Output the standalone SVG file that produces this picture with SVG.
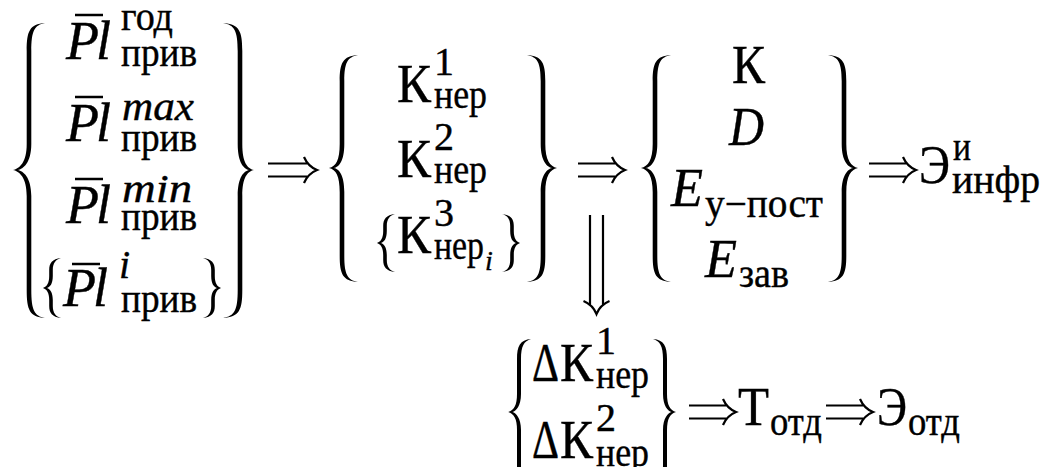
<svg xmlns="http://www.w3.org/2000/svg" width="1046" height="467" viewBox="0 0 1046 467">
<style>
text{font-family:"Liberation Serif","DejaVu Serif",serif;fill:#000;stroke:#000;stroke-width:0.4}
.m{font-size:54px}
.s{font-size:40px}
.ss{font-size:28px}
.i{font-style:italic}
.br{fill:#000;stroke:none}
.bar{stroke:#000;stroke-width:2.5}
.arr{fill:none;stroke:#000;stroke-width:2.2}
</style>
<rect width="1046" height="467" fill="#fff"/>

<g id="vec-Pl">
<path class="br" d="M45,23 C29.7,24 26.7,31 26.7,51 L26.7,144 C26.7,162 20,168.5 13,170 C20,171.5 26.7,178 26.7,196 L26.7,290 C26.7,310 29.7,317 45,318 C34.3,316 31.3,310 31.3,290 L31.3,196 C31.3,177 23,171 18,170 C23,169 31.3,163 31.3,144 L31.3,51 C31.3,31 34.3,25 45,23 Z"/>
<path class="br" transform="scale(-1,1)" d="M-223,23 C-239.3,24 -242.3,31 -242.3,51 L-242.3,144 C-242.3,162 -247,168.5 -254,170 C-247,171.5 -242.3,178 -242.3,196 L-242.3,290 C-242.3,310 -239.3,317 -223,318 C-234.7,316 -237.7,310 -237.7,290 L-237.7,196 C-237.7,177 -244,171 -249,170 C-244,169 -237.7,163 -237.7,144 L-237.7,51 C-237.7,31 -234.7,25 -223,23 Z"/>
<line class="bar" x1="75" y1="15" x2="103" y2="15"/>
<text class="m i" x="66" y="59">P</text><text class="m i" x="96" y="59">l</text>
<text class="s" x="121" y="30" textLength="52" lengthAdjust="spacingAndGlyphs">год</text>
<text class="s" x="121" y="66" textLength="76" lengthAdjust="spacingAndGlyphs">прив</text>
<line class="bar" x1="75" y1="97" x2="103" y2="97"/>
<text class="m i" x="66" y="141">P</text><text class="m i" x="96" y="141">l</text>
<text class="s i" x="122" y="120" textLength="72" lengthAdjust="spacingAndGlyphs">max</text>
<text class="s" x="121" y="151" textLength="76" lengthAdjust="spacingAndGlyphs">прив</text>
<line class="bar" x1="75" y1="179" x2="103" y2="179"/>
<text class="m i" x="66" y="223">P</text><text class="m i" x="96" y="223">l</text>
<text class="s i" x="122" y="202" textLength="70" lengthAdjust="spacingAndGlyphs">min</text>
<text class="s" x="121" y="230" textLength="76" lengthAdjust="spacingAndGlyphs">прив</text>
<path class="br" d="M61,258 C52.2,259 49.2,263 49.2,270 L49.2,276 C49.2,283 47,286.5 43,288 C47,289.5 49.2,293 49.2,300 L49.2,306 C49.2,313 52.2,317 61,318 C55.8,316.5 52.8,313 52.8,306 L52.8,300 C52.8,292 50,289 47,288 C50,287 52.8,284 52.8,276 L52.8,270 C52.8,263 55.8,259.5 61,258 Z"/>
<line class="bar" x1="72" y1="264" x2="100" y2="264"/>
<text class="m i" x="63" y="306">P</text><text class="m i" x="93" y="306">l</text>
<text class="s i" x="119" y="278">i</text>
<text class="s" x="121" y="312" textLength="76" lengthAdjust="spacingAndGlyphs">прив</text>
<path class="br" transform="scale(-1,1)" d="M-203,258 C-211.8,259 -214.8,263 -214.8,270 L-214.8,276 C-214.8,283 -217,286.5 -221,288 C-217,289.5 -214.8,293 -214.8,300 L-214.8,306 C-214.8,313 -211.8,317 -203,318 C-208.2,316.5 -211.2,313 -211.2,306 L-211.2,300 C-211.2,292 -214,289 -217,288 C-214,287 -211.2,284 -211.2,276 L-211.2,270 C-211.2,263 -208.2,259.5 -203,258 Z"/>
</g>

<g id="vec-K">
<path class="br" d="M358,55 C342.7,56 339.7,63 339.7,81 L339.7,144 C339.7,160 336,166.5 329,168 C336,169.5 339.7,176 339.7,192 L339.7,256 C339.7,274 342.7,281 358,282 C347.3,280 344.3,274 344.3,256 L344.3,192 C344.3,175 339,169 334,168 C339,167 344.3,161 344.3,144 L344.3,81 C344.3,63 347.3,57 358,55 Z"/>
<path class="br" transform="scale(-1,1)" d="M-527,55 C-542.3,56 -545.3,63 -545.3,81 L-545.3,144 C-545.3,160 -550,166.5 -557,168 C-550,169.5 -545.3,176 -545.3,192 L-545.3,256 C-545.3,274 -542.3,281 -527,282 C-537.7,280 -540.7,274 -540.7,256 L-540.7,192 C-540.7,175 -547,169 -552,168 C-547,167 -540.7,161 -540.7,144 L-540.7,81 C-540.7,63 -537.7,57 -527,55 Z"/>
<text class="m" x="397" y="102" textLength="34" lengthAdjust="spacingAndGlyphs">К</text>
<text class="s" x="434" y="75">1</text>
<text class="s" x="434" y="108" textLength="53" lengthAdjust="spacingAndGlyphs">нер</text>
<text class="m" x="397" y="177" textLength="34" lengthAdjust="spacingAndGlyphs">К</text>
<text class="s" x="434" y="150">2</text>
<text class="s" x="434" y="183" textLength="53" lengthAdjust="spacingAndGlyphs">нер</text>
<path class="br" d="M395,214 C386.2,215 383.2,219 383.2,226 L383.2,231 C383.2,238 381,241.5 377,243 C381,244.5 383.2,248 383.2,255 L383.2,260 C383.2,267 386.2,271 395,272 C389.8,270.5 386.8,267 386.8,260 L386.8,255 C386.8,247 384,244 381,243 C384,242 386.8,239 386.8,231 L386.8,226 C386.8,219 389.8,215.5 395,214 Z"/>
<text class="m" x="397" y="253" textLength="34" lengthAdjust="spacingAndGlyphs">К</text>
<text class="s" x="434" y="226">3</text>
<text class="s" x="434" y="259" textLength="50" lengthAdjust="spacingAndGlyphs">нер</text>
<text class="ss i" x="485" y="270">i</text>
<path class="br" transform="scale(-1,1)" d="M-502,214 C-510.8,215 -513.8,219 -513.8,226 L-513.8,231 C-513.8,238 -516,241.5 -520,243 C-516,244.5 -513.8,248 -513.8,255 L-513.8,260 C-513.8,267 -510.8,271 -502,272 C-507.2,270.5 -510.2,267 -510.2,260 L-510.2,255 C-510.2,247 -513,244 -516,243 C-513,242 -510.2,239 -510.2,231 L-510.2,226 C-510.2,219 -507.2,215.5 -502,214 Z"/>
</g>

<g id="vec-KDE">
<path class="br" d="M671,55 C655.7,56 652.7,63 652.7,81 L652.7,144 C652.7,160 648,166.5 641,168 C648,169.5 652.7,176 652.7,192 L652.7,256 C652.7,274 655.7,281 671,282 C660.3,280 657.3,274 657.3,256 L657.3,192 C657.3,175 651,169 646,168 C651,167 657.3,161 657.3,144 L657.3,81 C657.3,63 660.3,57 671,55 Z"/>
<path class="br" transform="scale(-1,1)" d="M-828,55 C-843.3,56 -846.3,63 -846.3,81 L-846.3,144 C-846.3,160 -851,166.5 -858,168 C-851,169.5 -846.3,176 -846.3,192 L-846.3,256 C-846.3,274 -843.3,281 -828,282 C-838.7,280 -841.7,274 -841.7,256 L-841.7,192 C-841.7,175 -848,169 -853,168 C-848,167 -841.7,161 -841.7,144 L-841.7,81 C-841.7,63 -838.7,57 -828,55 Z"/>
<text class="m" x="732" y="83" textLength="33" lengthAdjust="spacingAndGlyphs">К</text>
<text class="m i" x="729" y="145" textLength="35" lengthAdjust="spacingAndGlyphs">D</text>
<text class="m i" x="671" y="206" textLength="32" lengthAdjust="spacingAndGlyphs">E</text>
<text class="s" x="705" y="217" textLength="118" lengthAdjust="spacingAndGlyphs">у−пост</text>
<text class="m i" x="705" y="277" textLength="32" lengthAdjust="spacingAndGlyphs">E</text>
<text class="s" x="739" y="287" textLength="50" lengthAdjust="spacingAndGlyphs">зав</text>
</g>

<g id="E-infr">
<text class="m" x="919" y="183" textLength="31" lengthAdjust="spacingAndGlyphs">Э</text>
<text class="s" x="953" y="160" textLength="18" lengthAdjust="spacingAndGlyphs">и</text>
<text class="s" x="952" y="193" textLength="88" lengthAdjust="spacingAndGlyphs">инфр</text>
</g>

<g id="vec-dK">
<path class="br" d="M531,339 C520,340 517,346 517,359 L517,394 C517,405 514,410.5 508,412 C514,413.5 517,419 517,430 L517,465 C517,478 520,484 531,485 C524,483 521,478 521,465 L521,430 C521,418 516,413 512.5,412 C516,411 521,406 521,394 L521,359 C521,346 524,341 531,339 Z"/>
<text class="m" x="532" y="381" textLength="27" lengthAdjust="spacingAndGlyphs">Δ</text>
<text class="m" x="560" y="381" textLength="33" lengthAdjust="spacingAndGlyphs">К</text>
<text class="s" x="596" y="354">1</text>
<text class="s" x="596" y="388" textLength="53" lengthAdjust="spacingAndGlyphs">нер</text>
<text class="m" x="532" y="458" textLength="27" lengthAdjust="spacingAndGlyphs">Δ</text>
<text class="m" x="560" y="458" textLength="33" lengthAdjust="spacingAndGlyphs">К</text>
<text class="s" x="596" y="431">2</text>
<text class="s" x="596" y="466" textLength="53" lengthAdjust="spacingAndGlyphs">нер</text>
<path class="br" transform="scale(-1,1)" d="M-653,339 C-664,340 -667,346 -667,359 L-667,394 C-667,405 -670,410.5 -676,412 C-670,413.5 -667,419 -667,430 L-667,465 C-667,478 -664,484 -653,485 C-660,483 -663,478 -663,465 L-663,430 C-663,418 -668,413 -671.5,412 C-668,411 -663,406 -663,394 L-663,359 C-663,346 -660,341 -653,339 Z"/>
</g>

<g id="T-otd">
<text class="m" x="738" y="425" textLength="31" lengthAdjust="spacingAndGlyphs">Т</text>
<text class="s" x="770" y="435" textLength="52" lengthAdjust="spacingAndGlyphs">отд</text>
</g>

<g id="E-otd">
<text class="m" x="877" y="425" textLength="30" lengthAdjust="spacingAndGlyphs">Э</text>
<text class="s" x="908" y="435" textLength="52" lengthAdjust="spacingAndGlyphs">отд</text>
</g>

<g id="connectors">
<path class="arr" d="M268,163.5 H308 M268,176.5 H308 M304,157 C307,164 312,168 317,170 C312,172 307,176 304,183"/>
<path class="arr" d="M578,163.5 H616 M578,176.5 H616 M612,157 C615,164 620,168 625,170 C620,172 615,176 612,183"/>
<path class="arr" d="M869,163.5 H907 M869,176.5 H907 M903,157 C906,164 911,168 916,170 C911,172 906,176 903,183"/>
<path class="arr" d="M590,215 V305 M603,215 V305 M583.5,301 C590.5,304 594.5,309 596.5,314 C598.5,309 602.5,304 609.5,301"/>
<path class="arr" d="M689,405.5 H727 M689,418.5 H727 M723,399 C726,406 731,410 736,412 C731,414 726,418 723,425"/>
<path class="arr" d="M826,405.5 H864 M826,418.5 H864 M860,399 C863,406 868,410 873,412 C868,414 863,418 860,425"/>
</g>
</svg>
